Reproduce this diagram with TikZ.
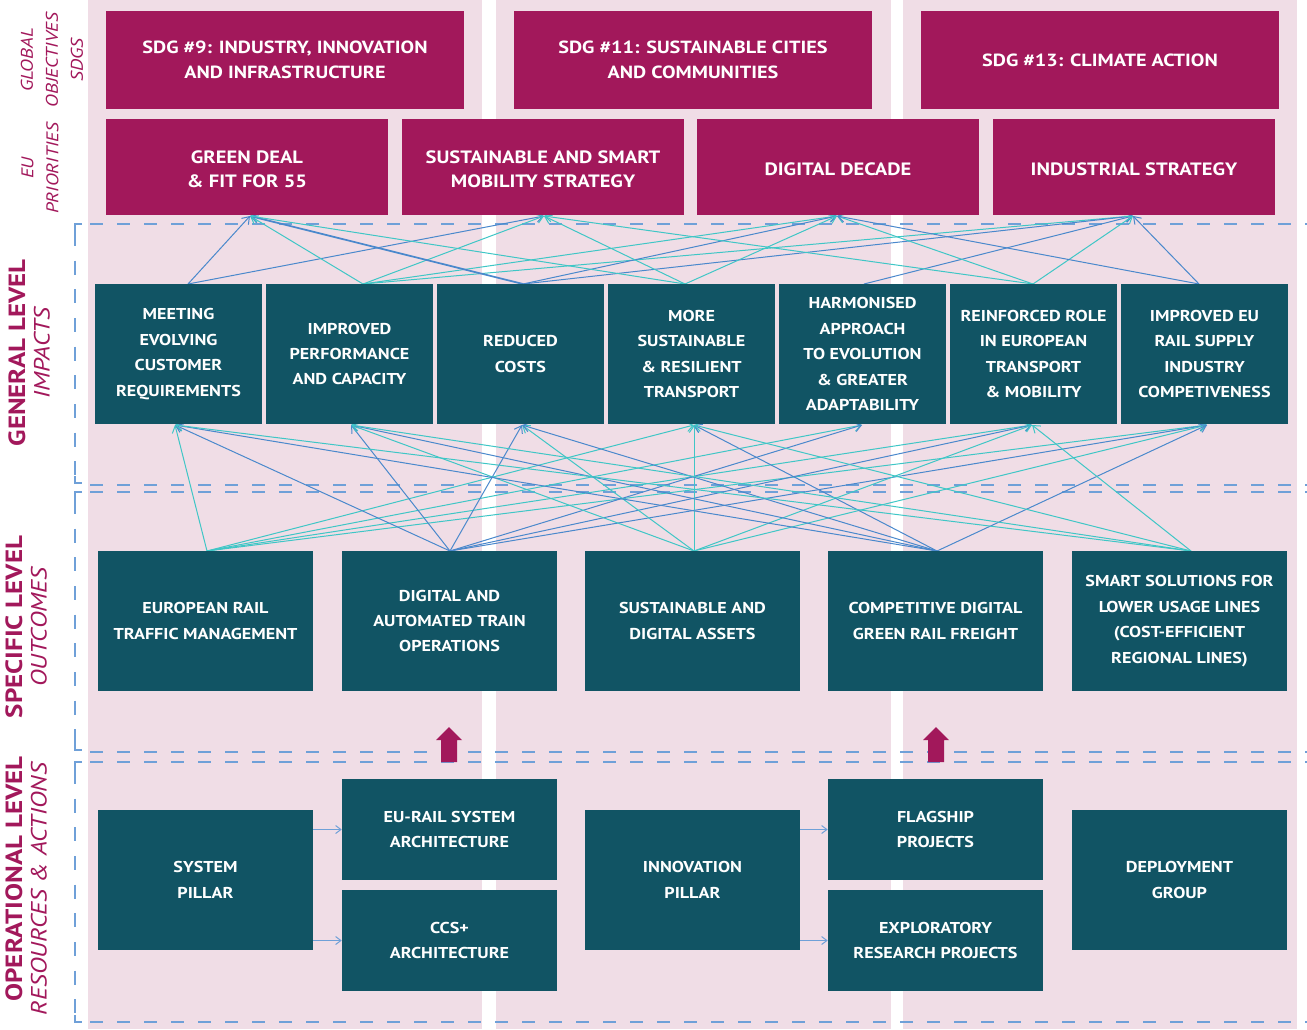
\documentclass[tikz,border=0pt]{standalone}
\usepackage{fontspec}
\setmainfont[FakeStretch=1.15]{PT Sans}
\usetikzlibrary{arrows.meta}
\definecolor{mag}{HTML}{A2185B}
\definecolor{boxteal}{HTML}{115464}
\definecolor{pinkbg}{HTML}{F0DDE6}
\definecolor{dashblue}{HTML}{6FA0D8}
\definecolor{cblue}{HTML}{4A88CC}
\definecolor{cturq}{HTML}{3FC6C6}
\tikzset{
  magbox/.style={fill=mag, text=white, inner sep=0pt, align=center},
  tealbox/.style={fill=boxteal, text=white, inner sep=0pt, align=center,
    font=\bfseries\fontsize{11.8}{19.1}\selectfont},
  sdgbox/.style={magbox, minimum width=358*0.75pt, minimum height=98*0.75pt,
    font=\bfseries\fontsize{13.2}{18.8}\selectfont},
  eubox/.style={magbox, minimum width=282*0.75pt, minimum height=96*0.75pt},
  eutext/.style={text=white, inner sep=0pt, align=center,
    font=\bfseries\fontsize{13.4}{18}\selectfont},
  impbox/.style={tealbox, minimum width=167*0.75pt, minimum height=140*0.75pt},
  outbox/.style={tealbox, minimum width=215*0.75pt, minimum height=140*0.75pt},
  halfbox/.style={tealbox, minimum width=215*0.75pt, minimum height=101*0.75pt},
  sidelab/.style={rotate=90, text=mag, align=center},
  sidebold/.style={sidelab, font=\bfseries\fontsize{17.6}{20}\selectfont},
  sideital/.style={sidelab, font=\itshape\fontsize{16.6}{20}\selectfont},
  sidesmall/.style={sidelab, font=\itshape\fontsize{12.7}{18.8}\selectfont},
  hdash/.style={draw=dashblue, line width=0.9pt, dash pattern=on 9.75pt off 10.5pt},
  vdash/.style={draw=dashblue, line width=0.9pt, dash pattern=on 10.5pt off 11pt},
  tick/.style={draw=dashblue, line width=0.9pt},
  cb/.style={draw=cblue, line width=0.75pt, -{Straight Barb[length=5pt,width=7pt]}},
  ct/.style={draw=cturq, line width=0.75pt, -{Straight Barb[length=5pt,width=7pt]}},
  smallarr/.style={draw=dashblue, line width=0.75pt, -{Straight Barb[length=4pt,width=6pt]}},
  uparrow/.style={fill=mag}
}
\begin{document}
\begin{tikzpicture}[x=0.75pt,y=-0.75pt]
\useasboundingbox (0,0) rectangle (1307,1029);
% background panels
\fill[pinkbg] (88,0) rectangle (482,1029);
\fill[pinkbg] (496,0) rectangle (891,1029);
\fill[pinkbg] (903,0) rectangle (1297,1029);

% dashed separators
\draw[hdash] (90,224) -- (1307,224);
\draw[hdash] (90,485) -- (1307,485);
\draw[hdash] (90,492) -- (1307,492);
\draw[hdash] (90,752) -- (1307,752);
\draw[hdash] (90,762) -- (1307,762);
\draw[hdash] (90,1022) -- (1307,1022);
\draw[vdash] (75,232) -- (75,483);
\draw[vdash] (75,500) -- (75,750);
\draw[vdash] (75,770) -- (75,1022);
\draw[tick] (82,224) -- (75,224) -- (75,232);
\draw[tick] (75,476) -- (75,483) -- (82,483);
\draw[tick] (82,492) -- (75,492) -- (75,500);
\draw[tick] (75,743) -- (75,750) -- (82,750);
\draw[tick] (82,762) -- (75,762) -- (75,770);
\draw[tick] (75,1015) -- (75,1022) -- (82,1022);

% side labels
\node[sidesmall] (lglob) at (52,60) {GLOBAL\\OBJECTIVES\\SDGS};
\node[sidesmall] (leu) at (40,168) {EU\\PRIORITIES};
\node[sidebold] (lgen) at (17,353) {GENERAL LEVEL};
\node[sideital] (limp) at (42,353) {IMPACTS};
\node[sidebold] (lspec) at (14,627) {SPECIFIC LEVEL};
\node[sideital] (lout) at (39,627) {OUTCOMES};
\node[sidebold] (lop) at (14,879) {OPERATIONAL LEVEL};
\node[sideital] (lres) at (39,889) {RESOURCES \& ACTIONS};

% connector end points
\coordinate (i1t) at (188,284); \coordinate (i2t) at (363,284);
\coordinate (i3t) at (523,284); \coordinate (i4t) at (685,284);
\coordinate (i5t) at (864,284); \coordinate (i6t) at (1033,284);
\coordinate (i7t) at (1199,284);
\coordinate (e1) at (250,216); \coordinate (e2) at (544,216);
\coordinate (e3) at (837,216); \coordinate (e4) at (1133,216);
\coordinate (i1b) at (175,425); \coordinate (i2b) at (351,425);
\coordinate (i3b) at (522,425); \coordinate (i4b) at (694,425);
\coordinate (i5b) at (862,425); \coordinate (i6b) at (1032,425);
\coordinate (i7b) at (1207,425);
\coordinate (o1) at (207,551); \coordinate (o2) at (450,551);
\coordinate (o3) at (694,551); \coordinate (o4) at (937,551);
\coordinate (o5) at (1191,551);

% impacts -> EU priorities
\draw[cb] (i1t) -- (e1); \draw[cb] (i1t) -- (e2);
\draw[ct] (i2t) -- (e1); \draw[ct] (i2t) -- (e2);
\draw[ct] (i2t) -- (e3); \draw[ct] (i2t) -- (e4);
\draw[cb, line width=1.3pt] (i3t) -- (e1); \draw[cb] (i3t) -- (e3); \draw[cb] (i3t) -- (e4);
\draw[ct] (i4t) -- (e1); \draw[ct] (i4t) -- (e2); \draw[ct] (i4t) -- (e3);
\draw[cb] (i5t) -- (e4);
\draw[ct] (i6t) -- (e2); \draw[ct] (i6t) -- (e3); \draw[ct] (i6t) -- (e4);
\draw[cb] (i7t) -- (e3); \draw[cb] (i7t) -- (e4);

% outcomes -> impacts
\foreach \t in {i1b,i4b,i5b,i6b,i7b} \draw[ct] (o1) -- (\t);
\foreach \t in {i1b,i2b,i3b,i5b,i6b,i7b} \draw[cb] (o2) -- (\t);
\foreach \t in {i2b,i3b,i4b,i6b,i7b} \draw[ct] (o3) -- (\t);
\foreach \t in {i1b,i2b,i3b,i4b,i7b} \draw[cb] (o4) -- (\t);
\foreach \t in {i1b,i2b,i4b,i6b} \draw[ct] (o5) -- (\t);

% SDG row
\node[sdgbox] (sdg9) at (285,60) {SDG \#9: INDUSTRY, INNOVATION\\AND INFRASTRUCTURE};
\node[sdgbox] (sdg11) at (693,60) {SDG \#11: SUSTAINABLE CITIES\\AND COMMUNITIES};
\node[sdgbox] (sdg13) at (1100,60) {SDG \#13: CLIMATE ACTION};
% EU priorities (box, then its text slightly lowered)
\node[eubox] (eu1) at (247,167) {};
\node[eubox] (eu2) at (543,167) {};
\node[eubox] (eu3) at (838,167) {};
\node[eubox] (eu4) at (1134,167) {};
\node[eutext] (eu1t) at ([yshift=-2pt]eu1.center) {GREEN DEAL\\\& FIT FOR 55};
\node[eutext] (eu2t) at ([yshift=-2pt]eu2.center) {SUSTAINABLE AND SMART\\MOBILITY STRATEGY};
\node[eutext] (eu3t) at ([yshift=-2pt]eu3.center) {DIGITAL DECADE};
\node[eutext] (eu4t) at ([yshift=-2pt]eu4.center) {INDUSTRIAL STRATEGY};
% impacts
\node[impbox] (im1) at (178.5,354) {MEETING\\EVOLVING\\CUSTOMER\\REQUIREMENTS};
\node[impbox] (im2) at (349.5,354) {IMPROVED\\PERFORMANCE\\AND CAPACITY};
\node[impbox] (im3) at (520.5,354) {REDUCED\\COSTS};
\node[impbox] (im4) at (691.5,354) {MORE\\SUSTAINABLE\\\& RESILIENT\\TRANSPORT};
\node[impbox] (im5) at (862.5,354) {HARMONISED\\APPROACH\\TO EVOLUTION\\\& GREATER\\ADAPTABILITY};
\node[impbox] (im6) at (1033.5,354) {REINFORCED ROLE\\IN EUROPEAN\\TRANSPORT\\\& MOBILITY};
\node[impbox] (im7) at (1204.5,354) {IMPROVED EU\\RAIL SUPPLY\\INDUSTRY\\COMPETIVENESS};
% outcomes
\node[outbox] (out1) at (205.5,621) {EUROPEAN RAIL\\TRAFFIC MANAGEMENT};
\node[outbox] (out2) at (449.5,621) {DIGITAL AND\\AUTOMATED TRAIN\\OPERATIONS};
\node[outbox] (out3) at (692.5,621) {SUSTAINABLE AND\\DIGITAL ASSETS};
\node[outbox] (out4) at (935.5,621) {COMPETITIVE DIGITAL\\GREEN RAIL FREIGHT};
\node[outbox] (out5) at (1179.5,621) {SMART SOLUTIONS FOR\\LOWER USAGE LINES\\(COST-EFFICIENT\\REGIONAL LINES)};
% operational
\node[outbox] (sys) at (205.5,880) {SYSTEM\\PILLAR};
\node[halfbox] (eur) at (449.5,829.5) {EU-RAIL SYSTEM\\ARCHITECTURE};
\node[halfbox] (ccs) at (449.5,940.5) {CCS+\\ARCHITECTURE};
\node[outbox] (inn) at (692.5,880) {INNOVATION\\PILLAR};
\node[halfbox] (flag) at (935.5,829.5) {FLAGSHIP\\PROJECTS};
\node[halfbox] (expl) at (935.5,940.5) {EXPLORATORY\\RESEARCH PROJECTS};
\node[outbox] (dep) at (1179.5,880) {DEPLOYMENT\\GROUP};

\draw[smallarr] (sys.east |- eur.west) -- (eur.west);
\draw[smallarr] (sys.east |- ccs.west) -- (ccs.west);
\draw[smallarr] (inn.east |- flag.west) -- (flag.west);
\draw[smallarr] (inn.east |- expl.west) -- (expl.west);

% block arrows up
\fill[uparrow] (441,762) -- (457,762) -- (457,740) -- (462,740) -- (449,727) -- (436,740) -- (441,740) -- cycle;
\fill[uparrow] (928,762) -- (944,762) -- (944,740) -- (949,740) -- (936,727) -- (923,740) -- (928,740) -- cycle;
\end{tikzpicture}
\end{document}
